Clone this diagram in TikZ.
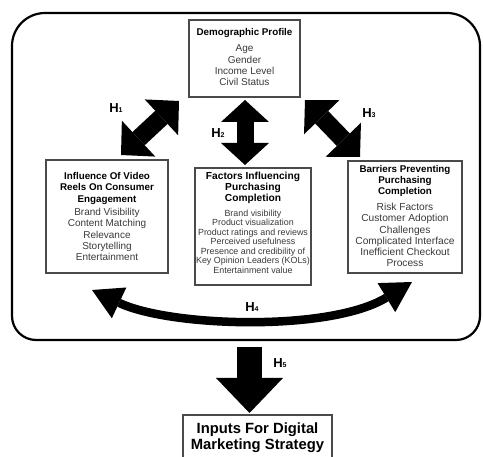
\documentclass[tikz,border=0pt]{standalone}
\usepackage{fontspec}
\setmainfont{Liberation Sans}
\usetikzlibrary{arrows.meta}
\definecolor{itemgray}{HTML}{3A3A3A}
\definecolor{boxgray}{HTML}{4A4A4A}
\newcommand\hyplabel[1]{\textbf{H}\raisebox{-0.2pt}{\fontsize{7}{7}\selectfont\bfseries #1}}
\begin{document}
\begin{tikzpicture}[x=1pt,y=-1pt,
  box/.style={draw=boxgray, line width=1.1pt, fill=white, inner sep=0pt},
  ttl/.style={font=\fontsize{9.8}{11}\selectfont\bfseries, align=center, inner sep=0pt, text=black},
  itm/.style={font=\fontsize{10}{11.3}\selectfont, align=center, inner sep=0pt, text=itemgray},
  itmsmall/.style={font=\fontsize{8.9}{9.5}\selectfont, align=center, inner sep=0pt, text=itemgray},
  hyp/.style={font=\fontsize{13}{13}\selectfont, inner sep=0pt, text=black},
  fatarrow/.style={line width=18pt, black,
    {Triangle[length=24pt,width=49pt,line width=0pt]}-{Triangle[length=24pt,width=49pt,line width=0pt]}},
  vertarrow/.style={line width=17pt, black,
    {Triangle[length=22pt,width=48pt,line width=0pt]}-{Triangle[length=22pt,width=48pt,line width=0pt]}},
  curvearrow/.style={line width=8.5pt, black,
    {Triangle[length=30pt,width=34pt,line width=0pt]}-{Triangle[length=30pt,width=34pt,line width=0pt]}},
  downarrow/.style={line width=25pt, black,
    -{Triangle[length=35pt,width=67pt,line width=0pt]}}
]
\path[use as bounding box, clip] (0,0) rectangle (483,457);

% outer frame
\draw[line width=2.2pt, black] (12,180)
  {[rounded corners=33pt] -- (12,13) -- (480,13) -- (480,180)}
  {[rounded corners=24pt] -- (480,340) -- (12,340) -- (12,180)};

% boxes
\node[box, minimum width=111pt, minimum height=77pt] (demo) at (244.5,58.5) {};
\node[box, minimum width=122pt, minimum height=113pt] (video) at (107,216.5) {};
\node[box, minimum width=116pt, minimum height=117pt] (factors) at (253,226.5) {};
\node[box, minimum width=114pt, minimum height=112pt] (barriers) at (405,217) {};
\node[box, minimum width=149pt, minimum height=50pt] (inputs) at (257.5,440) {};

% texts
\node[ttl] (demot) at (244.5,33) {Demographic Profile};
\node[itm] (demoi) at (244.5,65.5) {Age\\Gender\\Income Level\\Civil Status};

\node[ttl, font=\fontsize{9.8}{11.6}\selectfont\bfseries] (videot) at (107,188.3) {Influence Of Video\\Reels On Consumer\\Engagement};
\node[itm, font=\fontsize{10}{11.4}\selectfont] (videoi) at (107,234.5) {Brand Visibility\\Content Matching\\Relevance\\Storytelling\\Entertainment};

\node[ttl, font=\fontsize{10.2}{11}\selectfont\bfseries] (factorst) at (253,188) {Factors Influencing\\Purchasing\\Completion};
\node[itmsmall] (factorsi) at (253,241.5) {Brand visibility\\Product visualization\\Product ratings and reviews\\Perceived usefulness\\Presence and credibility of\\Key Opinion Leaders (KOLs)\\Entertainment value};

\node[ttl] (barrierst) at (405,181) {Barriers Preventing\\Purchasing\\Completion};
\node[itm, font=\fontsize{10.2}{11.2}\selectfont] (barriersi) at (405,235) {Risk Factors\\Customer Adoption\\Challenges\\Complicated Interface\\Inefficient Checkout\\Process};

\node[ttl, font=\fontsize{14.8}{15.5}\selectfont\bfseries] (inputst) at (257.5,437.5) {Inputs For Digital\\Marketing Strategy};

% connector end points
\coordinate (h1a) at (121,155);
\coordinate (h1b) at (179,101);
\coordinate (h2a) at (245,100);
\coordinate (h2b) at (245,165);
\coordinate (h3a) at (305,100);
\coordinate (h3b) at (360,157);
\coordinate (h4a) at (92,290);
\coordinate (h4b) at (412,282);
\coordinate (h5a) at (249.5,347);
\coordinate (h5b) at (249.5,413);

\draw[fatarrow] (h1a) -- (h1b);
\draw[vertarrow] (h2a) -- (h2b);
\draw[fatarrow] (h3a) -- (h3b);
\draw[curvearrow] (h4a) .. controls (170,327) and (330,332) .. (h4b);
\draw[downarrow] (h5a) -- (h5b);

% labels
\node[hyp] (l1) at (116,108) {\hyplabel{1}};
\node[hyp] (l2) at (218,133) {\hyplabel{2}};
\node[hyp] (l3) at (369,113) {\hyplabel{3}};
\node[hyp] (l4) at (252,307) {\hyplabel{4}};
\node[hyp] (l5) at (280,363) {\hyplabel{5}};
\end{tikzpicture}
\end{document}
